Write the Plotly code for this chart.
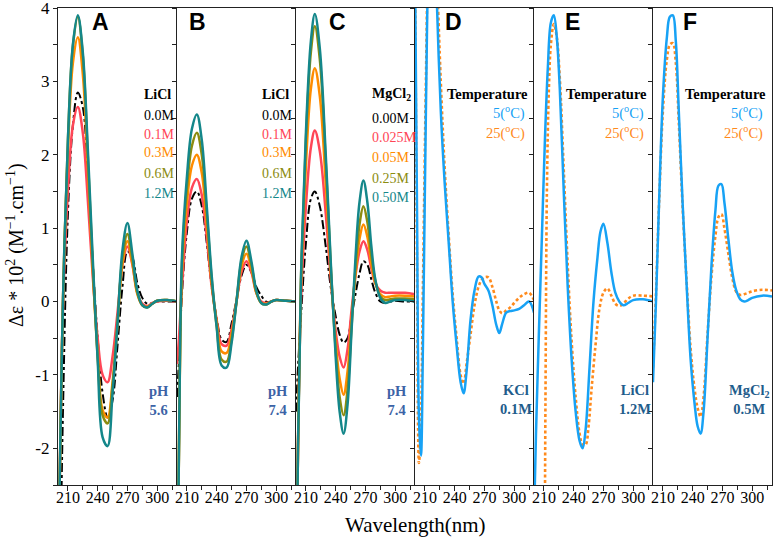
import plotly.graph_objects as go

# ---------------- data ----------------
# Panel A (LiCl, pH 5.6)
wl_A = [200, 202, 205, 210, 215, 220, 225, 230, 235, 240, 245, 250, 255, 260, 265, 270, 275, 280, 285, 290, 295, 300, 310, 320]
A_00 = [-6.0, -4.0, -1.5, 1.2, 2.4, 2.85, 2.65, 1.75, 0.55, -0.5, -1.25, -1.58, -1.35, -0.6, 0.2, 0.68, 0.6, 0.25, 0.05, -0.03, -0.02, 0.0, 0.0, 0.0]
A_01 = [-4.0, -2.2, -0.1, 1.5, 2.4, 2.65, 2.3, 1.4, 0.35, -0.5, -1.0, -1.1, -0.75, -0.15, 0.5, 0.75, 0.5, 0.12, -0.03, -0.06, -0.02, 0.0, 0.01, 0.0]
A_03 = [-4.0, -2.2, 0.0, 2.05, 3.25, 3.6, 3.1, 1.85, 0.45, -0.7, -1.48, -1.58, -1.1, -0.3, 0.52, 0.82, 0.52, 0.1, -0.05, -0.07, -0.03, 0.01, 0.02, 0.0]
A_06 = [-4.0, -2.2, 0.0, 2.2, 3.48, 3.88, 3.35, 2.0, 0.5, -0.75, -1.55, -1.66, -1.15, -0.3, 0.6, 0.92, 0.58, 0.12, -0.05, -0.08, -0.03, 0.01, 0.02, 0.0]
A_12 = [-4.0, -2.2, 0.0, 2.2, 3.5, 3.9, 3.4, 2.1, 0.6, -0.8, -1.85, -1.97, -1.25, -0.3, 0.7, 1.07, 0.65, 0.15, -0.05, -0.08, -0.03, 0.01, 0.02, 0.0]

# Panel B (LiCl, pH 7.4)
wl_B = [200, 202, 205, 210, 215, 220, 225, 230, 235, 240, 245, 250, 255, 260, 265, 270, 275, 280, 285, 290, 295, 300, 310, 320]
B_00 = [-1.3, -0.8, 0.1, 0.95, 1.4, 1.5, 1.3, 0.8, 0.2, -0.22, -0.52, -0.55, -0.3, 0.02, 0.35, 0.5, 0.4, 0.2, 0.08, 0.0, 0.0, 0.02, 0.01, 0.0]
B_01 = [-0.85, -0.5, 0.2, 1.1, 1.55, 1.67, 1.45, 0.88, 0.2, -0.25, -0.58, -0.6, -0.38, 0.0, 0.4, 0.55, 0.4, 0.12, 0.0, -0.02, 0.0, 0.02, 0.01, 0.0]
B_03 = [-4.5, -2.0, 0.4, 1.35, 1.85, 2.0, 1.75, 1.05, 0.25, -0.28, -0.68, -0.7, -0.45, 0.0, 0.48, 0.65, 0.45, 0.12, -0.02, -0.03, 0.0, 0.02, 0.01, 0.0]
B_06 = [-4.5, -2.0, 0.5, 1.55, 2.12, 2.3, 2.0, 1.2, 0.3, -0.33, -0.79, -0.82, -0.52, 0.0, 0.55, 0.75, 0.5, 0.13, -0.02, -0.04, 0.0, 0.02, 0.01, 0.0]
B_12 = [-4.5, -2.0, 0.6, 1.7, 2.35, 2.55, 2.2, 1.3, 0.35, -0.35, -0.87, -0.9, -0.57, 0.0, 0.6, 0.83, 0.55, 0.15, -0.02, -0.04, 0.0, 0.02, 0.01, 0.0]

# Panel C (MgCl2, pH 7.4)
wl_C = [200, 202, 205, 210, 215, 219, 224, 230, 235, 240, 244, 248, 252, 256, 260, 264, 268, 272, 276, 280, 285, 290, 295, 300, 310, 320]
C_000 = [-1.5, -0.9, -0.2, 0.8, 1.4, 1.5, 1.3, 0.75, 0.2, -0.2, -0.45, -0.56, -0.5, -0.2, 0.1, 0.38, 0.55, 0.5, 0.3, 0.12, 0.0, -0.02, 0.0, 0.01, 0.0, 0.0]
C_025 = [-4.5, -2.0, 0.0, 1.3, 2.1, 2.33, 2.05, 1.2, 0.32, -0.4, -0.75, -0.9, -0.65, -0.12, 0.35, 0.68, 0.82, 0.7, 0.45, 0.25, 0.15, 0.12, 0.12, 0.12, 0.12, 0.1]
C_050 = [-4.5, -2.0, 0.2, 1.85, 2.9, 3.18, 2.8, 1.6, 0.42, -0.55, -1.05, -1.27, -0.95, -0.25, 0.38, 0.85, 1.05, 0.88, 0.52, 0.25, 0.1, 0.06, 0.07, 0.08, 0.08, 0.07]
C_250 = [-4.5, -2.0, 0.3, 2.2, 3.4, 3.75, 3.3, 1.9, 0.5, -0.65, -1.3, -1.55, -1.2, -0.35, 0.45, 1.05, 1.3, 1.08, 0.62, 0.28, 0.07, 0.02, 0.03, 0.04, 0.04, 0.03]
C_500 = [-4.5, -2.0, 0.3, 2.3, 3.55, 3.92, 3.45, 2.0, 0.55, -0.75, -1.5, -1.8, -1.4, -0.4, 0.6, 1.35, 1.65, 1.35, 0.75, 0.3, 0.05, -0.02, 0.0, 0.02, 0.02, 0.0]

# Panel D (KCl 0.1M)
wl_D = [200, 202, 204, 206, 208, 211, 214, 217, 220, 222, 226, 230, 234, 238, 242, 246, 249, 252, 256, 260, 264, 267, 270, 274, 278, 282, 285, 288, 292, 296, 300, 305, 310, 315, 320]
D_5C = [4.6, 1.3, -1.6, -2.1, -0.6, 2.6, 5.0, 5.8, 5.0, 4.1, 2.6, 1.6, 0.8, 0.0, -0.6, -1.1, -1.25, -0.95, -0.25, 0.15, 0.34, 0.33, 0.24, 0.15, -0.05, -0.32, -0.43, -0.3, -0.15, -0.13, -0.12, -0.1, -0.05, 0.0, -0.15]
D_25C = [4.5, 0.6, -2.2, -1.6, 0.2, 3.0, 5.2, 5.8, 5.2, 4.5, 3.0, 1.8, 0.9, 0.1, -0.5, -1.0, -1.12, -0.85, -0.45, -0.05, 0.2, 0.29, 0.33, 0.33, 0.2, 0.0, -0.12, -0.16, -0.12, -0.08, -0.02, 0.05, 0.1, 0.12, 0.02]

# Panel E (LiCl 1.2M)
wl_E5 = [200, 202, 205, 208, 211, 214, 217, 220, 223, 226, 230, 234, 238, 242, 246, 249, 252, 256, 260, 264, 267, 270, 274, 278, 282, 286, 290, 295, 300, 310, 320]
E_5C = [-3.0, -1.8, -0.4, 0.9, 2.2, 3.2, 3.8, 3.9, 3.6, 2.9, 1.5, 0.2, -0.8, -1.5, -1.9, -2.0, -1.75, -0.9, 0.0, 0.6, 0.95, 1.06, 0.8, 0.4, 0.12, 0.0, -0.05, -0.02, 0.02, 0.03, 0.0]
wl_E25 = [200, 206, 210, 211.5, 213, 215, 217, 220, 223, 226, 230, 234, 238, 242, 246, 249, 252, 255, 258, 262, 266, 270, 274, 278, 282, 286, 290, 295, 300, 310, 320]
E_25C = [-8.0, -8.0, -5.0, -1.5, 1.5, 2.9, 3.5, 3.78, 3.6, 3.05, 1.8, 0.5, -0.55, -1.3, -1.8, -1.95, -1.95, -1.7, -1.2, -0.6, -0.1, 0.12, 0.18, 0.08, -0.03, -0.06, -0.03, 0.04, 0.08, 0.08, 0.07]

# Panel F (MgCl2 0.5M)
wl_F = [200, 203, 206, 210, 214, 217, 220, 223, 226, 230, 234, 238, 242, 245, 248, 251, 255, 259, 263, 266, 269, 272, 276, 280, 284, 288, 292, 296, 300, 310, 320]
F_5C = [-1.1, 0.0, 1.3, 2.8, 3.6, 3.88, 3.9, 3.55, 2.6, 1.3, 0.2, -0.8, -1.4, -1.7, -1.8, -1.5, -0.5, 0.5, 1.25, 1.58, 1.6, 1.35, 0.85, 0.4, 0.15, 0.03, 0.0, 0.02, 0.05, 0.08, 0.07]
F_25C = [-0.9, 0.1, 1.3, 2.6, 3.3, 3.5, 3.52, 3.25, 2.45, 1.25, 0.25, -0.65, -1.2, -1.45, -1.57, -1.3, -0.45, 0.35, 0.9, 1.15, 1.19, 1.0, 0.65, 0.32, 0.13, 0.09, 0.1, 0.12, 0.14, 0.16, 0.15]

licl_labels = ["0.0M", "0.1M", "0.3M", "0.6M", "1.2M"]
mgcl_labels = ["0.00M", "0.025M", "0.05M", "0.25M", "0.50M"]
temp_labels = ["5(<sup>o</sup>C)", "25(<sup>o</sup>C)"]
panel_letters = ["A", "B", "C", "D", "E", "F"]
ph_labels = ["pH<br>5.6", "pH<br>7.4", "pH<br>7.4"]
salt_labels = ["KCl<br>0.1M", "LiCl<br>1.2M", "MgCl<sub>2</sub><br>0.5M"]
x_ticks = [210, 240, 270, 300]
y_ticks = [-2, -1, 0, 1, 2, 3, 4]

# ---------------- styling ----------------
SERIF = "Liberation Serif, Times New Roman, serif"
SANS = "Liberation Sans, Arial, sans-serif"
conc_colors = ["black", "#ff4656", "#ff8c00", "#8c8c10", "#14878a"]
BLUE = "#17a2f5"
ORANGE = "#ff8a1c"

L, R, T, B = 58, 772, 8, 485
W, H = 774, 543

def px(x):
    return (x - L) / (R - L)

def py(y):
    return (B - y) / (B - T)

fig = go.Figure()

def add_conc(panel, wl, series):
    ax = "" if panel == 1 else str(panel)
    for i, vals in enumerate(series):
        if i == 0:
            line = dict(color="black", width=2, dash="dashdot", shape="spline", smoothing=1)
        else:
            line = dict(color=conc_colors[i], width=2.5, shape="spline", smoothing=1)
        fig.add_trace(go.Scatter(x=wl, y=vals, mode="lines", line=line,
                                 xaxis="x" + ax, yaxis="y" + ax,
                                 showlegend=False, hoverinfo="skip"))

def add_temp(panel, wl5, v5, wl25, v25):
    ax = "" if panel == 1 else str(panel)
    fig.add_trace(go.Scatter(x=wl25, y=v25, mode="lines",
                             line=dict(color=ORANGE, width=2.6, dash="3px,2.5px", shape="spline", smoothing=1),
                             xaxis="x" + ax, yaxis="y" + ax, showlegend=False, hoverinfo="skip"))
    fig.add_trace(go.Scatter(x=wl5, y=v5, mode="lines",
                             line=dict(color=BLUE, width=2.5, shape="spline", smoothing=1),
                             xaxis="x" + ax, yaxis="y" + ax, showlegend=False, hoverinfo="skip"))

add_conc(1, wl_A, [A_00, A_01, A_03, A_06, A_12])
add_conc(2, wl_B, [B_00, B_01, B_03, B_06, B_12])
add_conc(3, wl_C, [C_000, C_025, C_050, C_250, C_500])
add_temp(4, wl_D, D_5C, wl_D, D_25C)
add_temp(5, wl_E5, E_5C, wl_E25, E_25C)
add_temp(6, wl_F, F_5C, wl_F, F_25C)

layout = dict(
    width=W, height=H,
    margin=dict(l=L, r=W - R, t=T, b=H - B, autoexpand=False),
    plot_bgcolor="white", paper_bgcolor="white",
    showlegend=False,
)
for i in range(6):
    sfx = "" if i == 0 else str(i + 1)
    layout["xaxis" + sfx] = dict(
        domain=[i / 6, (i + 1) / 6], range=[200, 320], anchor="y" + sfx,
        showline=True, linecolor="#222", linewidth=1.2, mirror=True,
        ticks="outside", ticklen=5, tickcolor="#222", tickwidth=1,
        tickvals=x_ticks, ticktext=[str(v) for v in x_ticks],
        minor=dict(dtick=15, tick0=0, ticks="outside", ticklen=4, tickcolor="#222"),
        showgrid=False, zeroline=False, fixedrange=True,
        ticklabelstandoff=-7, ticklabeloverflow="allow",
        tickfont=dict(family=SERIF, size=16, color="black"),
    )
    layout["yaxis" + sfx] = dict(
        domain=[0, 1], range=[-2.5, 4.0001], anchor="x" + sfx,
        showline=True, linecolor="#222", linewidth=1.2, mirror=(i == 5),
        ticks="outside", ticklen=4, tickcolor="#222", tickwidth=1,
        tickvals=y_ticks, ticktext=[str(v) for v in y_ticks],
        minor=dict(dtick=0.5, ticks="outside", ticklen=4, tickcolor="#222"),
        showticklabels=(i == 0), ticklabeloverflow="allow",
        showgrid=False, zeroline=False, fixedrange=True,
        tickfont=dict(family=SERIF, size=17, color="black"),
    )

fig.update_layout(**layout)

ann = []
def text(x, y, s, size=14, color="black", bold=False, family=SERIF, xanchor="center", angle=0):
    if bold:
        s = "<b>" + s + "</b>"
    ann.append(dict(x=px(x), y=py(y), xref="paper", yref="paper", text=s, showarrow=False,
                    xanchor=xanchor, yanchor="middle", textangle=angle,
                    font=dict(family=family, size=size, color=color)))

# panel letters
letter_pos = [(100, 22), (197, 22), (337, 22), (453, 22), (572, 22), (690, 22)]
for (x, y), s in zip(letter_pos, panel_letters):
    text(x, y, s, size=23, bold=True, family=SANS)

# concentration legends
rows_AB = [95, 115, 134, 153, 173, 193]
for x0 in (142, 260):
    text(x0, rows_AB[0], "LiCl", bold=True, xanchor="left")
    for j, lab in enumerate(licl_labels):
        text(x0, rows_AB[j + 1], lab, color=conc_colors[j], xanchor="left")
rows_C = [94, 118, 137, 157, 178, 198]
text(370, rows_C[0], "MgCl<sub>2</sub>", bold=True, xanchor="left")
for j, lab in enumerate(mgcl_labels):
    text(370, rows_C[j + 1], lab, color=conc_colors[j], xanchor="left")

# temperature legends
for xr in (530, 649, 768):
    text(xr, 94, "Temperature", bold=True, xanchor="right", size=14.5)
    text(xr - 3, 113, temp_labels[0], color=BLUE, xanchor="right", size=14.5)
    text(xr - 3, 132, temp_labels[1], color=ORANGE, xanchor="right", size=14.5)

# pH / salt labels
for xc, s in zip((159, 278, 397), ph_labels):
    text(xc, 400, s, bold=True, color="#3c63a6", size=14.5)
for xc, s in zip((516, 635, 749), salt_labels):
    text(xc, 399, s, bold=True, color="#1f5d8c", size=14.5)

# axis titles
text(415, 525, "Wavelength(nm)", size=21)
text(15, 245, "Δε * 10<sup>2</sup> (M<sup>−1</sup>.cm<sup>−1</sup>)", size=20, angle=-90)

fig.update_layout(annotations=ann)
fig.write_html("out.html", config={"displayModeBar": False},
               post_script="document.body.style.margin='0';document.body.style.overflow='hidden';")
